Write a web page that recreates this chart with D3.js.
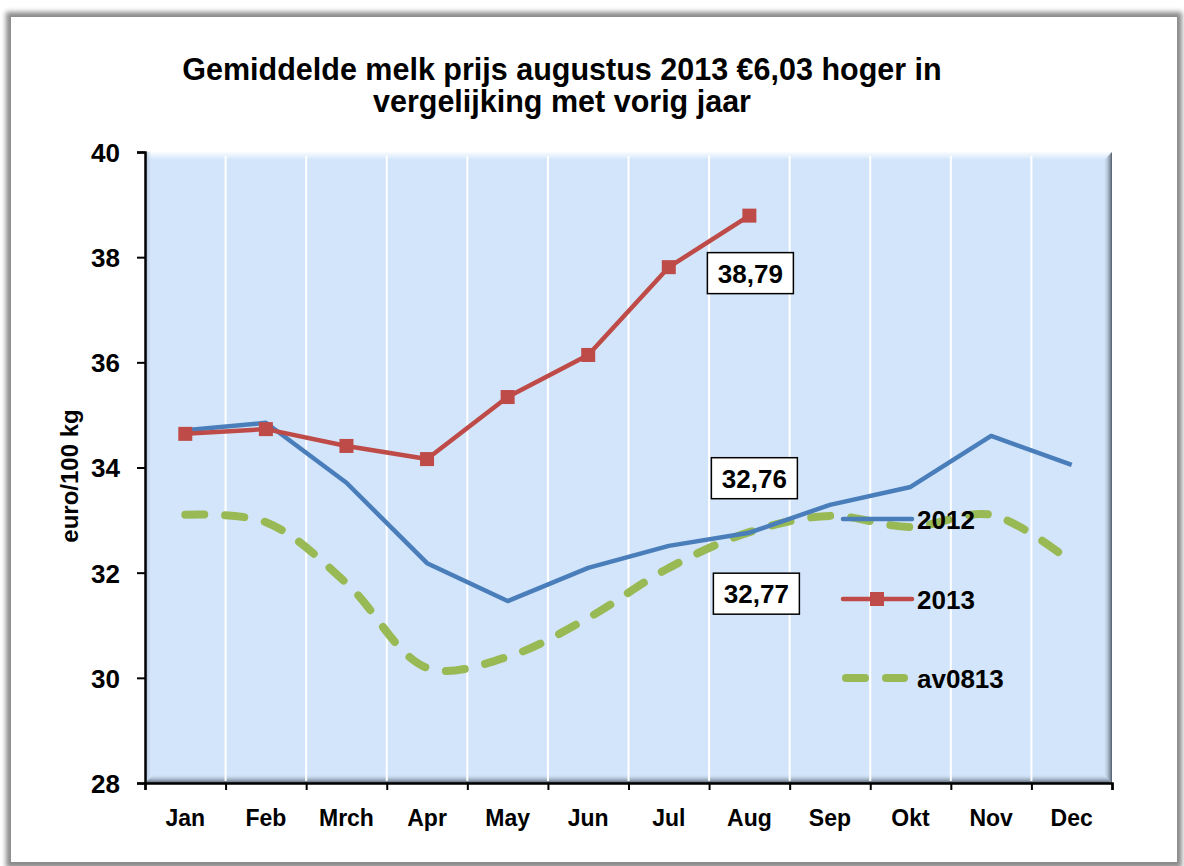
<!DOCTYPE html>
<html><head><meta charset="utf-8">
<script src="https://cdn.jsdelivr.net/npm/d3@7"></script>
<style>
html,body{margin:0;padding:0;background:#fff;}
svg{display:block;}
text{font-family:"Liberation Sans",Arial,sans-serif;font-weight:bold;fill:#000;}
</style></head>
<body>
<svg id="chart" width="1184" height="866"></svg>
<script>
const months = ["Jan","Feb","Mrch","Apr","May","Jun","Jul","Aug","Sep","Okt","Nov","Dec"];
const values2012 = [34.71,34.85,33.71,32.18,31.46,32.09,32.51,32.76,33.29,33.63,34.60,34.05];
const values2013 = [34.64,34.73,34.41,34.16,35.34,36.14,37.81,38.79];
const valuesAv0813 = [33.10,32.96,31.80,30.19,30.40,31.14,32.09,32.77,33.08,32.87,33.10,32.20];
const yTicks = [28,30,32,34,36,38,40];
const seriesNames = ["2012","2013","av0813"];
const labelTexts = ["38,79","32,76","32,77"];
const titleLines = ["Gemiddelde melk prijs augustus 2013 \u20AC6,03 hoger in","vergelijking met vorig jaar"];
const yAxisTitle = "euro/100 kg";

const svg = d3.select("#chart");
const defs = svg.append("defs");

// frame shadow
const fblur = defs.append("filter").attr("id","fblur").attr("x","-5%").attr("y","-5%").attr("width","110%").attr("height","110%");
fblur.append("feGaussianBlur").attr("stdDeviation",2.5);
svg.append("rect").attr("x",6).attr("y",12).attr("width",1176).attr("height",856).attr("fill","#8a8a8a").attr("filter","url(#fblur)");
svg.append("rect").attr("x",11).attr("y",17).attr("width",1166).attr("height",845).attr("fill","#fff");

const L=145,R=1112,T=152,B=783;
const x = d3.scaleBand().domain(months).range([L,R]).padding(0);
const y = d3.scaleLinear().domain([28,40]).range([B,T]);
const cx = m => x(m)+x.bandwidth()/2;

// plot area
svg.append("rect").attr("x",L).attr("y",T).attr("width",R-L).attr("height",B-T).attr("fill","#D3E5FA");
// bevel gradients
const gR = defs.append("linearGradient").attr("id","gR").attr("x1",0).attr("x2",1).attr("y1",0).attr("y2",0);
gR.append("stop").attr("offset","0").attr("stop-color","#D3E5FA").attr("stop-opacity",0);
gR.append("stop").attr("offset","1").attr("stop-color","#4f5a68");
const gB = defs.append("linearGradient").attr("id","gB").attr("x1",0).attr("x2",0).attr("y1",0).attr("y2",1);
gB.append("stop").attr("offset","0").attr("stop-color","#D3E5FA").attr("stop-opacity",0);
gB.append("stop").attr("offset","1").attr("stop-color","#4f5a68");
const gT = defs.append("linearGradient").attr("id","gT").attr("x1",0).attr("x2",0).attr("y1",0).attr("y2",1);
gT.append("stop").attr("offset","0").attr("stop-color","#ffffff").attr("stop-opacity",0.9);
gT.append("stop").attr("offset","1").attr("stop-color","#ffffff").attr("stop-opacity",0);
const gL = defs.append("linearGradient").attr("id","gL").attr("x1",0).attr("x2",1).attr("y1",0).attr("y2",0);
gL.append("stop").attr("offset","0").attr("stop-color","#8fa4bf").attr("stop-opacity",0.8);
gL.append("stop").attr("offset","1").attr("stop-color","#D3E5FA").attr("stop-opacity",0);
svg.append("rect").attr("x",L).attr("y",T).attr("width",R-L).attr("height",8).attr("fill","url(#gT)");
svg.append("rect").attr("x",L).attr("y",T).attr("width",7).attr("height",B-T).attr("fill","url(#gL)");
svg.append("path").attr("d",`M${R-9},${T+9} L${R},${T} L${R},${B} L${R-9},${B-9} Z`).attr("fill","url(#gR)");
svg.append("path").attr("d",`M${L+9},${B-9} L${R-9},${B-9} L${R},${B} L${L},${B} Z`).attr("fill","url(#gB)");

// vertical gridlines
svg.append("g").selectAll("line").data(months.slice(1)).join("line")
  .attr("x1",d=>x(d)).attr("x2",d=>x(d)).attr("y1",T+4).attr("y2",B-2)
  .attr("stroke","#fff").attr("stroke-width",2);

// axes
const yAxis = d3.axisLeft(y).tickValues(yTicks).tickSize(8).tickPadding(17).tickFormat(d3.format("d"));
const gy = svg.append("g").attr("transform",`translate(${L},0)`).call(yAxis);
gy.select(".domain").attr("stroke","#000").attr("stroke-width",2.5);
gy.selectAll(".tick line").attr("stroke","#000").attr("stroke-width",2);
gy.selectAll(".tick text").style("font-size","26px").attr("font-family","Liberation Sans, Arial, sans-serif").attr("font-weight","bold").attr("dy","0.36em");

const xb = d3.scalePoint().domain(d3.range(13)).range([L,R]);
const xAxisTicks = d3.axisBottom(xb).tickSize(7).tickFormat("");
const gx = svg.append("g").attr("transform",`translate(0,${B})`).call(xAxisTicks);
gx.select(".domain").attr("stroke","#000").attr("stroke-width",2.5);
gx.selectAll(".tick line").attr("stroke","#000").attr("stroke-width",2);
svg.append("g").selectAll("text").data(months).join("text")
  .attr("x",d=>cx(d)).attr("y",826).attr("text-anchor","middle").style("font-size","23px").text(d=>d);

// y title
svg.append("text").attr("transform",`translate(78,${476}) rotate(-90)`).attr("text-anchor","middle").style("font-size","24px").text(yAxisTitle);

// title
svg.append("g").selectAll("text").data(titleLines).join("text")
  .attr("x",562).attr("y",(d,i)=>80+i*32).attr("text-anchor","middle").style("font-size","30.5px").text(d=>d);

const colors = {"2012":"#4A7EBB","2013":"#BE4B48","av0813":"#98B954"};

// av0813 line
const lineSmooth = d3.line().x((d,i)=>cx(months[i])).y(d=>y(d)).curve(d3.curveCatmullRom.alpha(0.5));
svg.append("path").datum(valuesAv0813).attr("d",lineSmooth).attr("fill","none")
  .attr("stroke",colors.av0813).attr("stroke-width",8).attr("stroke-dasharray","19 21").attr("stroke-linecap","round");

const lineStraight = d3.line().x((d,i)=>cx(months[i])).y(d=>y(d));
svg.append("path").datum(values2012).attr("d",lineStraight).attr("fill","none")
  .attr("stroke",colors["2012"]).attr("stroke-width",4.5).attr("stroke-linejoin","round");
svg.append("path").datum(values2013).attr("d",lineStraight).attr("fill","none")
  .attr("stroke",colors["2013"]).attr("stroke-width",4.5).attr("stroke-linejoin","round");
svg.append("g").selectAll("rect").data(values2013).join("rect")
  .attr("x",(d,i)=>cx(months[i])-7).attr("y",d=>y(d)-7).attr("width",14).attr("height",14)
  .attr("fill",colors["2013"]);

// data labels
const augIdx = 7;
const labelPos = [
  {t:labelTexts[0], v:values2013[augIdx], dy:57, dx:1},
  {t:labelTexts[1], v:values2012[augIdx], dy:-55, dx:5},
  {t:labelTexts[2], v:valuesAv0813[augIdx], dy:61, dx:7}
];
labelPos.forEach(p=>{
  const px = cx(months[augIdx])+p.dx, py = y(p.v)+p.dy;
  svg.append("rect").attr("x",px-43).attr("y",py-20).attr("width",86).attr("height",41)
    .attr("fill","#fff").attr("stroke","#000").attr("stroke-width",1.5);
  svg.append("text").attr("x",px).attr("y",py+10).attr("text-anchor","middle").style("font-size","26px").text(p.t);
});

// legend
const legY = [519,599,678];
seriesNames.forEach((s,i)=>{
  const g = svg.append("g");
  if(s==="av0813"){
    g.append("line").attr("x1",846).attr("x2",904).attr("y1",legY[i]).attr("y2",legY[i])
      .attr("stroke",colors[s]).attr("stroke-width",8).attr("stroke-dasharray","19 21").attr("stroke-linecap","round");
  } else {
    g.append("line").attr("x1",843).attr("x2",912).attr("y1",legY[i]).attr("y2",legY[i])
      .attr("stroke",colors[s]).attr("stroke-width",4.5).attr("stroke-linecap","round");
    if(s==="2013") g.append("rect").attr("x",870).attr("y",legY[i]-7).attr("width",14).attr("height",14).attr("fill",colors[s]);
  }
  g.append("text").attr("x",917).attr("y",legY[i]+10).style("font-size","26px").text(s);
});
</script>
</body></html>
